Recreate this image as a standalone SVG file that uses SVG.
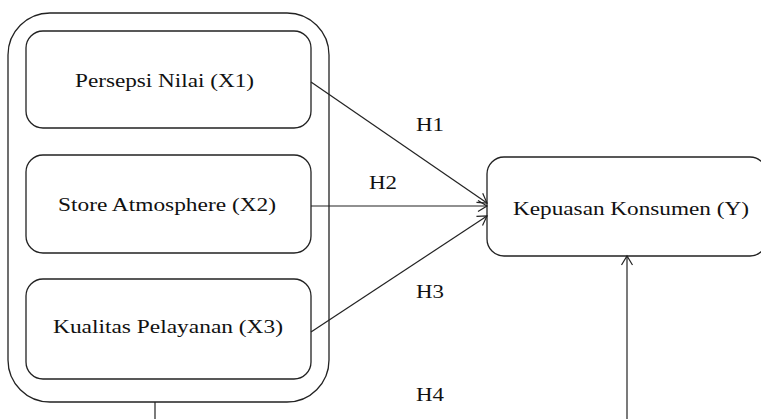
<svg xmlns="http://www.w3.org/2000/svg" width="761" height="419" viewBox="0 0 761 419">
<style>
.box{fill:#fff;stroke:#222;stroke-width:1.3}
.t{font-family:'Liberation Serif','DejaVu Serif',serif;font-size:19px;fill:#111}
.c{fill:none;stroke:#222;stroke-width:1.2}
</style>
<defs>
<marker id="a" markerWidth="14" markerHeight="14" refX="11" refY="7" orient="auto" markerUnits="userSpaceOnUse">
<path d="M2,1.5 L11,7 L2,12.5" fill="none" stroke="#222" stroke-width="1.2"/>
</marker>
</defs>
<rect width="761" height="419" fill="#fff"/>
<g id="group">
<rect class="box" x="8" y="13" width="321" height="389" rx="42" ry="42"/>
</g>
<g id="x1">
<rect class="box" x="26" y="31" width="285" height="97" rx="17" ry="17"/>
<text class="t" x="75" y="87" textLength="179" lengthAdjust="spacingAndGlyphs">Persepsi Nilai (X1)</text>
</g>
<g id="x2">
<rect class="box" x="26" y="155" width="285" height="98" rx="17" ry="17"/>
<text class="t" x="58" y="211" textLength="218" lengthAdjust="spacingAndGlyphs">Store Atmosphere (X2)</text>
</g>
<g id="x3">
<rect class="box" x="26" y="279" width="285" height="100" rx="17" ry="17"/>
<text class="t" x="53" y="333" textLength="230" lengthAdjust="spacingAndGlyphs">Kualitas Pelayanan (X3)</text>
</g>
<g id="y">
<rect class="box" x="487" y="157" width="280" height="99" rx="17" ry="17"/>
<text class="t" x="513" y="215" textLength="236" lengthAdjust="spacingAndGlyphs">Kepuasan Konsumen (Y)</text>
</g>
<g id="connectors">
<line class="c" x1="311" y1="82" x2="487" y2="203" marker-end="url(#a)"/>
<line class="c" x1="311" y1="206" x2="487" y2="206" marker-end="url(#a)"/>
<line class="c" x1="311" y1="332" x2="487" y2="216" marker-end="url(#a)"/>
<line class="c" x1="627" y1="419" x2="627" y2="256" marker-end="url(#a)"/>
<line class="c" x1="155" y1="402" x2="155" y2="419"/>
<text class="t" x="416" y="131" textLength="28" lengthAdjust="spacingAndGlyphs">H1</text>
<text class="t" x="369" y="189" textLength="28" lengthAdjust="spacingAndGlyphs">H2</text>
<text class="t" x="416" y="298" textLength="28" lengthAdjust="spacingAndGlyphs">H3</text>
<text class="t" x="416" y="401" textLength="28" lengthAdjust="spacingAndGlyphs">H4</text>
</g>
</svg>
